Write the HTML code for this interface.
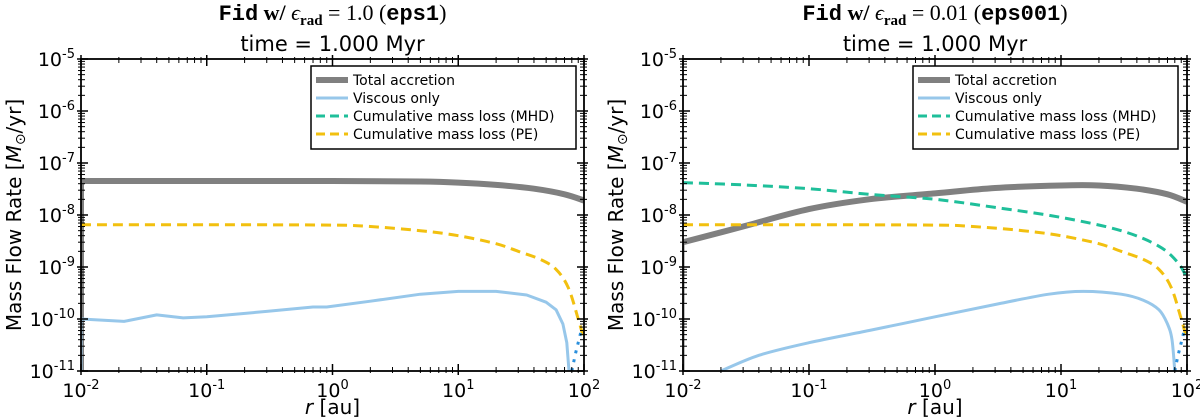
<!DOCTYPE html>
<html><head><meta charset="utf-8"><style>
body{margin:0;background:#fff}
svg{display:block;font-family:"DejaVu Sans","Liberation Sans",sans-serif}
</style></head><body>
<svg id="c" width="1200" height="419" viewBox="0 0 1200 419"></svg>
<script>
const xTickLabels=["-2","-1","0","1","2"];
const yTickLabels=["-5","-6","-7","-8","-9","-10","-11"];
const L_totalX=[0.01,0.1,1,5,10,20,40,70,100];
const L_totalY=[4.5e-8,4.5e-8,4.5e-8,4.4e-8,4.2e-8,3.8e-8,3.2e-8,2.5e-8,1.9e-8];
const L_viscX=[0.01,0.022,0.04,0.065,0.1,0.3,0.7,0.9,2,5,10,20,35,50,60,68,73,76];
const L_viscY=[1e-10,0.9e-10,1.2e-10,1.05e-10,1.1e-10,1.4e-10,1.7e-10,1.7e-10,2.2e-10,3e-10,3.4e-10,3.4e-10,2.9e-10,2.1e-10,1.5e-10,8e-11,3.5e-11,1e-11];
const L_peX=[0.01,0.1,1,2,5,10,20,30,45,60,75,90,100];
const L_peY=[6.5e-9,6.5e-9,6.4e-9,6e-9,5e-9,4e-9,2.8e-9,2e-9,1.4e-9,9e-10,4e-10,1e-10,4e-11];
const dotX=[80,85,90,95];
const dotY=[1e-11,2e-11,3.5e-11,6e-11];
const R_totalX=[0.01,0.03,0.1,0.3,1,3,10,20,40,70,100];
const R_totalY=[3e-9,6e-9,1.3e-8,2e-8,2.6e-8,3.3e-8,3.7e-8,3.7e-8,3.2e-8,2.5e-8,1.8e-8];
const R_mhdX=[0.01,0.03,0.1,0.3,1,3,10,30,60,85,100];
const R_mhdY=[4.2e-8,3.8e-8,3.2e-8,2.5e-8,2e-8,1.4e-8,9e-9,5e-9,2.5e-9,1.2e-9,6e-10];
const R_viscX=[0.02,0.04,0.1,0.3,1,3,8,15,30,45,60,70,76,80];
const R_viscY=[1e-11,2e-11,3.5e-11,6e-11,1.1e-10,1.9e-10,3e-10,3.4e-10,3e-10,2.3e-10,1.5e-10,8e-11,4e-11,1e-11];

const NS="http://www.w3.org/2000/svg";
const svg=document.getElementById('c');
function el(t,a,p){const e=document.createElementNS(NS,t);for(const k in a)e.setAttribute(k,a[k]);(p||svg).appendChild(e);return e;}
function smooth(P){
  if(P.length<3)return P.map((p,i)=>(i?'L':'M')+p[0].toFixed(1)+','+p[1].toFixed(1)).join('');
  let d='M'+P[0][0].toFixed(1)+','+P[0][1].toFixed(1);
  for(let i=0;i<P.length-1;i++){
    const p0=P[Math.max(0,i-1)],p1=P[i],p2=P[i+1],p3=P[Math.min(P.length-1,i+2)];
    const c1=[p1[0]+(p2[0]-p0[0])/6,p1[1]+(p2[1]-p0[1])/6],c2=[p2[0]-(p3[0]-p1[0])/6,p2[1]-(p3[1]-p1[1])/6];
    d+='C'+c1.map(v=>v.toFixed(1))+' '+c2.map(v=>v.toFixed(1))+' '+p2.map(v=>v.toFixed(1));
  }
  return d;
}
const Y0=59,Y1=371;
function panel(x0,x1,title,tag,series,legX){
  const g=el('g',{});
  
  
  const sx=v=>x0+(Math.log10(v)+2)/4*(x1-x0);
  const sy=v=>Y0+(-5-Math.log10(v))/6*(Y1-Y0);
  const clip=el('clipPath',{id:'cl'+tag},g);el('rect',{x:x0,y:Y0,width:x1-x0,height:Y1-Y0},clip);
  const pg=el('g',{'clip-path':'url(#cl'+tag+')'},g);
  series.forEach(s=>{
    const pts=s.x.map((v,i)=>[sx(v),sy(s.y[i])]);
    const d=s.sharp?pts.map((p,i)=>(i?'L':'M')+p[0].toFixed(1)+','+p[1].toFixed(1)).join(''):smooth(pts);
    const p=el('path',{d:d,fill:'none',stroke:s.c,'stroke-width':s.w,'stroke-dasharray':s.dash||'none','stroke-linecap':s.cap||'butt','stroke-linejoin':'round'},pg);
    
    
  });
  el('rect',{x:x0,y:Y0,width:x1-x0,height:Y1-Y0,fill:'none',stroke:'#000','stroke-width':1.8},g);
  for(let e=-2;e<=2;e++){
    const X=sx(Math.pow(10,e));
    el('line',{x1:X,x2:X,y1:Y1+4,y2:Y1-7,stroke:'#000','stroke-width':1.5},g);el('line',{x1:X,x2:X,y1:Y0-4,y2:Y0+7,stroke:'#000','stroke-width':1.5},g);
    const t=el('text',{x:X,y:Y1+26,'text-anchor':'middle','font-size':19},g);
    t.textContent='10';const ts=el('tspan',{dy:-8,'font-size':13},t);ts.textContent=xTickLabels[e+2];
    
    
    if(e<2)for(let m=2;m<10;m++){const X2=sx(m*Math.pow(10,e));
      el('line',{x1:X2,x2:X2,y1:Y1+2,y2:Y1-4,stroke:'#000'},g);el('line',{x1:X2,x2:X2,y1:Y0-2,y2:Y0+4,stroke:'#000'},g);}
  }
  for(let e=-5;e>=-11;e--){
    const Y=sy(Math.pow(10,e));
    el('line',{x1:x0-4,x2:x0+7,y1:Y,y2:Y,stroke:'#000','stroke-width':1.5},g);el('line',{x1:x1+4,x2:x1-7,y1:Y,y2:Y,stroke:'#000','stroke-width':1.5},g);
    const t=el('text',{x:x0-6,y:Y+7,'text-anchor':'end','font-size':19},g);
    t.textContent='10';const ts=el('tspan',{dy:-8,'font-size':13},t);ts.textContent=yTickLabels[-5-e];
    
    
    if(e>-11)for(let m=2;m<10;m++){const Y2=sy(m*Math.pow(10,e-1));
      el('line',{x1:x0-3,x2:x0+4,y1:Y2,y2:Y2,stroke:'#000'},g);el('line',{x1:x1+3,x2:x1-4,y1:Y2,y2:Y2,stroke:'#000'},g);}
  }
  const cx=(x0+x1)/2;
  const tt=el('text',{x:cx,y:20,'text-anchor':'middle','font-size':22,'font-weight':'bold','font-family':'"Liberation Serif",serif'},g);
  tt.innerHTML='<tspan font-family="Liberation Mono,monospace">Fid</tspan> w/ <tspan font-style="italic" font-weight="normal">ϵ</tspan><tspan font-size="15" dy="5">rad</tspan><tspan dy="-5" font-weight="normal"> = '+title+' (</tspan><tspan font-family="Liberation Mono,monospace">'+tag+'</tspan><tspan font-weight="normal">)</tspan>';
  
  
  const t2=el('text',{x:cx,y:51,'text-anchor':'middle','font-size':21,'xml:space':'preserve'},g);t2.textContent='time =  1.000 Myr';
  
  
  const xl=el('text',{x:cx,y:414,'text-anchor':'middle','font-size':20},g);
  xl.innerHTML='<tspan font-style="italic">r</tspan> [au]';
  
  
  const yl=el('text',{x:0,y:0,'text-anchor':'middle','font-size':20,transform:'translate('+(x0-60)+','+((Y0+Y1)/2)+') rotate(-90)'},g);
  yl.innerHTML='Mass Flow Rate [<tspan font-style="italic">M</tspan><tspan font-size="14" dy="4">⊙</tspan><tspan dy="-4">/yr]</tspan>';
  
  
  const lg=el('g',{},g);
  
  
  el('rect',{x:legX,y:66,width:265,height:83,fill:'#fff',stroke:'#000','stroke-width':1.5},lg);
  const ents=[['#808080',6,'none','Total accretion'],['#97c7ea',3,'none','  Viscous only'],['#1fbf9a',3,'9,5','Cumulative mass loss (MHD)'],['#f2c00f',3,'9,5','Cumulative mass loss (PE)']];
  ents.forEach((en,i)=>{const Y=80+i*18;
    el('line',{x1:legX+5,x2:legX+37,y1:Y,y2:Y,stroke:en[0],'stroke-width':en[1],'stroke-dasharray':en[2]},lg);
    const t=el('text',{x:legX+42,y:Y+5,'font-size':14,'xml:space':'preserve'},lg);t.textContent=en[3];
    
    
  });
}
panel(81,584,'1.0','eps1',[
  {x:[0.01,0.01],y:[4.5e-8,1e-11],c:'#808080',w:6,name:'total-edge',sharp:true},
  {x:L_totalX,y:L_totalY,c:'#808080',w:6,name:'total-accretion-line'},
  {x:L_peX,y:L_peY,c:'#f2c00f',w:3,dash:'10,6',name:'pe-loss-line'},
  {x:[0.01,0.01],y:[1e-10,1e-11],c:'#97c7ea',w:3,name:'viscous-edge',sharp:true},
  {x:L_viscX,y:L_viscY,c:'#97c7ea',w:3,name:'viscous-line',sharp:true},
  {x:dotX,y:dotY,c:'#2a8fdc',w:3,dash:'3,6',name:'viscous-negative-dotted'}
],311);
panel(683,1187,'0.01','eps001',[
  {x:[0.01,0.01],y:[3e-9,1e-11],c:'#808080',w:3,name:'total-edge',sharp:true},
  {x:R_totalX,y:R_totalY,c:'#808080',w:6,name:'total-accretion-line'},
  {x:R_mhdX,y:R_mhdY,c:'#1fbf9a',w:3,dash:'10,6',name:'mhd-loss-line'},
  {x:L_peX,y:L_peY,c:'#f2c00f',w:3,dash:'10,6',name:'pe-loss-line'},
  {x:R_viscX,y:R_viscY,c:'#97c7ea',w:3,name:'viscous-line'},
  {x:dotX,y:dotY,c:'#2a8fdc',w:3,dash:'3,6',name:'viscous-negative-dotted'}
],913);
</script>
</body></html>
